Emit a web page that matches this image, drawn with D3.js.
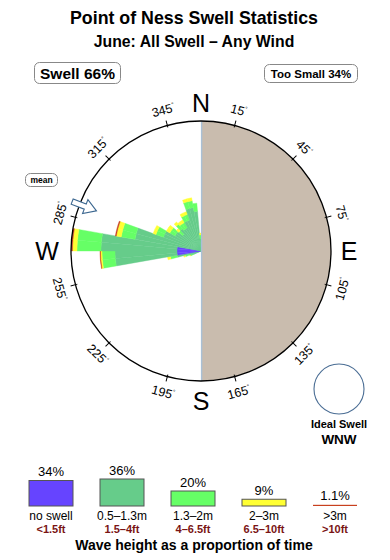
<!DOCTYPE html>
<html>
<head>
<meta charset="utf-8">
<script src="https://cdn.jsdelivr.net/npm/d3@7"></script>
<style>
  body { margin: 0; background: #fff; }
  svg { display: block; font-family: "Liberation Sans", Arial, sans-serif; }
</style>
</head>
<body>
<div id="chart"></div>
<script>
// swell rose: 5 degree bins, start bearing of each bin
const binStarts = [245, 250, 255, 260, 265, 270, 275, 280, 285, 290, 295, 300, 305, 310, 315, 320, 325, 330, 335, 340, 345, 350, 355];
// share of time per band in each bin (same units as the radial scale)
const noSwell = [0, 0, 0, 2.4, 2.4, 2.4, 2.4, 0, 0, 0, 0, 0, 0, 0, 0, 0, 0, 0, 0, 0, 0, 0, 0];
const band05 = [0.8, 1.2, 2.4, 6.2, 6.2, 7.6, 7.6, 6.7, 6.7, 4.0, 4.0, 3.0, 3.0, 2.4, 2.9, 2.7, 2.7, 3.3, 3.3, 4.4, 4.4, 4.0, 1.2];
const band13 = [0.3, 0.4, 0.7, 1.3, 1.3, 2.4, 2.4, 1.4, 1.4, 0.8, 0.8, 0.6, 0.6, 0.5, 0.6, 0.6, 0.6, 0.6, 0.6, 0.7, 0.7, 0.8, 0.4];
const band2 = [0.1, 0.2, 0.3, 0.15, 0.15, 0.45, 0.45, 0.5, 0.5, 0.3, 0.3, 0.4, 0.4, 0.3, 0.3, 0.3, 0.3, 0.3, 0.3, 0.3, 0.3, 0, 0.2];
const band3 = [0, 0, 0, 0.05, 0.05, 0.12, 0.12, 0.1, 0.1, 0, 0, 0, 0, 0, 0, 0, 0, 0, 0, 0, 0, 0, 0];

const tickBearings = [15, 45, 75, 105, 135, 165, 195, 225, 255, 285, 315, 345];
const compass = [['N', 0], ['E', 90], ['S', 180], ['W', 270]];
const meanBearing = 291;

const legendLabels = ['no swell', '0.5–1.3m', '1.3–2m', '2–3m', '>3m'];
const legendFeet = ['<1.5ft', '1.5–4ft', '4–6.5ft', '6.5–10ft', '>10ft'];
const legendPct = [34, 36, 20, 9, 1.1];

const bandColors = ['#6644ff', '#66cc8a', '#66ff66', '#ffff33', '#c8401e'];

const width = 390;
const height = 560;
const cx = 201, cy = 251, R = 130;
const binWidth = 5;
const rad = (deg) => deg * Math.PI / 180;

const svg = d3.select('#chart').append('svg')
  .attr('width', width)
  .attr('height', height);

// titles
svg.append('text').attr('x', 194).attr('y', 24).attr('text-anchor', 'middle')
  .attr('font-weight', 'bold').attr('font-size', 17.8).text('Point of Ness Swell Statistics');
svg.append('text').attr('x', 194).attr('y', 47).attr('text-anchor', 'middle')
  .attr('font-weight', 'bold').attr('font-size', 15.8).text('June: All Swell – Any Wind');

function badge(x, y, w, h, label, size) {
  svg.append('rect').attr('x', x).attr('y', y).attr('width', w).attr('height', h)
    .attr('rx', 5).attr('fill', '#fff').attr('stroke', '#888');
  svg.append('text').attr('x', x + w / 2).attr('y', y + h / 2).attr('dy', '0.36em')
    .attr('text-anchor', 'middle').attr('font-weight', 'bold').attr('font-size', size).text(label);
}
badge(34.5, 62.5, 86, 21, 'Swell 66%', 15.5);
badge(264.5, 64.5, 93, 18, 'Too Small 34%', 11.5);
badge(25.5, 173.5, 32, 13, 'mean', 8.5);

// rose
const r = d3.scaleLinear().domain([0, 13]).range([0, R]);
const rose = svg.append('g').attr('transform', `translate(${cx},${cy})`);

rose.append('circle').attr('r', R).attr('fill', '#fff');
rose.append('path')
  .attr('d', d3.arc()({ innerRadius: 0, outerRadius: R, startAngle: 0, endAngle: Math.PI }))
  .attr('fill', '#c9bcae');

const series = [noSwell, band05, band13, band2, band3];
const segments = binStarts.flatMap((b, i) => {
  let acc = 0;
  return series.map((s, k) => {
    const seg = { bin: b, k, r0: acc, r1: acc + s[i] };
    acc += s[i];
    return seg;
  }).filter((d) => d.r1 > d.r0);
});

const arc = d3.arc()
  .innerRadius((d) => r(d.r0))
  .outerRadius((d) => r(d.r1))
  .startAngle((d) => rad(d.bin))
  .endAngle((d) => rad(d.bin + binWidth));

rose.append('g')
  .selectAll('path')
  .data(segments)
  .join('path')
  .attr('d', arc)
  .attr('fill', (d) => bandColors[d.k])
  .attr('stroke', (d) => bandColors[d.k])
  .attr('stroke-width', 0.4);

rose.append('line').attr('x1', 0.6).attr('x2', 0.6).attr('y1', -R).attr('y2', R)
  .attr('stroke', '#a9c0d6').attr('stroke-width', 1.4);

rose.append('circle').attr('r', R).attr('fill', 'none').attr('stroke', '#000').attr('stroke-width', 1.3);

// ticks + degree labels
rose.append('g').selectAll('line')
  .data(tickBearings)
  .join('line')
  .attr('transform', (d) => `rotate(${d})`)
  .attr('y1', -R + 2).attr('y2', -R - 5)
  .attr('stroke', '#000');

rose.append('g').selectAll('text')
  .data(tickBearings)
  .join('text')
  .attr('transform', (d) => {
    const x = 146 * Math.sin(rad(d));
    const y = -146 * Math.cos(rad(d));
    const rot = (d > 90 && d < 270) ? d - 180 : (d > 180 ? d - 360 : d);
    return `translate(${x},${y}) rotate(${rot})`;
  })
  .attr('text-anchor', 'middle')
  .attr('dy', '0.36em')
  .attr('font-size', 12.5)
  .text((d) => d)
  .append('tspan')
  .attr('font-size', 6)
  .attr('dy', '-0.9em')
  .text('°');

rose.append('g').selectAll('text')
  .data(compass)
  .join('text')
  .attr('x', (d) => (d[0] === 'W' ? 154 : 148) * Math.sin(rad(d[1])))
  .attr('y', (d) => (d[0] === 'S' ? 150 : 148) * -Math.cos(rad(d[1])))
  .attr('dy', '0.36em')
  .attr('text-anchor', 'middle')
  .attr('font-size', 25)
  .text((d) => d[0]);

// mean direction arrow
rose.append('path')
  .attr('transform', `rotate(${meanBearing})`)
  .attr('d', 'M0,-112 L7.5,-124 L2.8,-124 L2.8,-138 L-2.8,-138 L-2.8,-124 L-7.5,-124 Z')
  .attr('fill', '#fff')
  .attr('stroke', '#3b6790')
  .attr('stroke-width', 1.1);

// ideal swell
svg.append('circle').attr('cx', 339).attr('cy', 389).attr('r', 25)
  .attr('fill', '#fff').attr('stroke', '#4a6d94').attr('stroke-width', 1.1);
svg.append('text').attr('x', 339).attr('y', 428).attr('text-anchor', 'middle')
  .attr('font-weight', 'bold').attr('font-size', 11).text('Ideal Swell');
svg.append('text').attr('x', 339).attr('y', 444).attr('text-anchor', 'middle')
  .attr('font-weight', 'bold').attr('font-size', 13.5).text('WNW');

// legend
const lx = d3.scalePoint().domain(legendLabels).range([51, 335]);
const lh = d3.scaleLinear().domain([0, 36]).range([0, 27]);
const boxW = 44;
const base = 506;

const legend = svg.append('g').selectAll('g')
  .data(legendLabels)
  .join('g')
  .attr('transform', (d) => `translate(${lx(d)},0)`);

legend.append('rect')
  .attr('x', -boxW / 2)
  .attr('y', (d, i) => base - Math.max(lh(legendPct[i]), 1.2))
  .attr('width', boxW)
  .attr('height', (d, i) => Math.max(lh(legendPct[i]), 1.2))
  .attr('fill', (d, i) => bandColors[i])
  .attr('stroke', (d, i) => (lh(legendPct[i]) < 2 ? 'none' : '#555'));

legend.append('text')
  .attr('y', (d, i) => base - Math.max(lh(legendPct[i]), 1.2) - 4.5)
  .attr('text-anchor', 'middle')
  .attr('font-size', 13)
  .text((d, i) => (legendPct[i] < 2 ? legendPct[i].toFixed(1) : legendPct[i]) + '%');

legend.append('text')
  .attr('y', 520)
  .attr('text-anchor', 'middle')
  .attr('font-size', 12)
  .text((d) => d);

legend.append('text')
  .attr('y', 533)
  .attr('text-anchor', 'middle')
  .attr('font-size', 11)
  .attr('font-weight', 'bold')
  .attr('fill', '#7a1414')
  .text((d, i) => legendFeet[i]);

svg.append('text').attr('x', 194).attr('y', 550).attr('text-anchor', 'middle')
  .attr('font-weight', 'bold').attr('font-size', 14).text('Wave height as a proportion of time');
</script>
</body>
</html>
